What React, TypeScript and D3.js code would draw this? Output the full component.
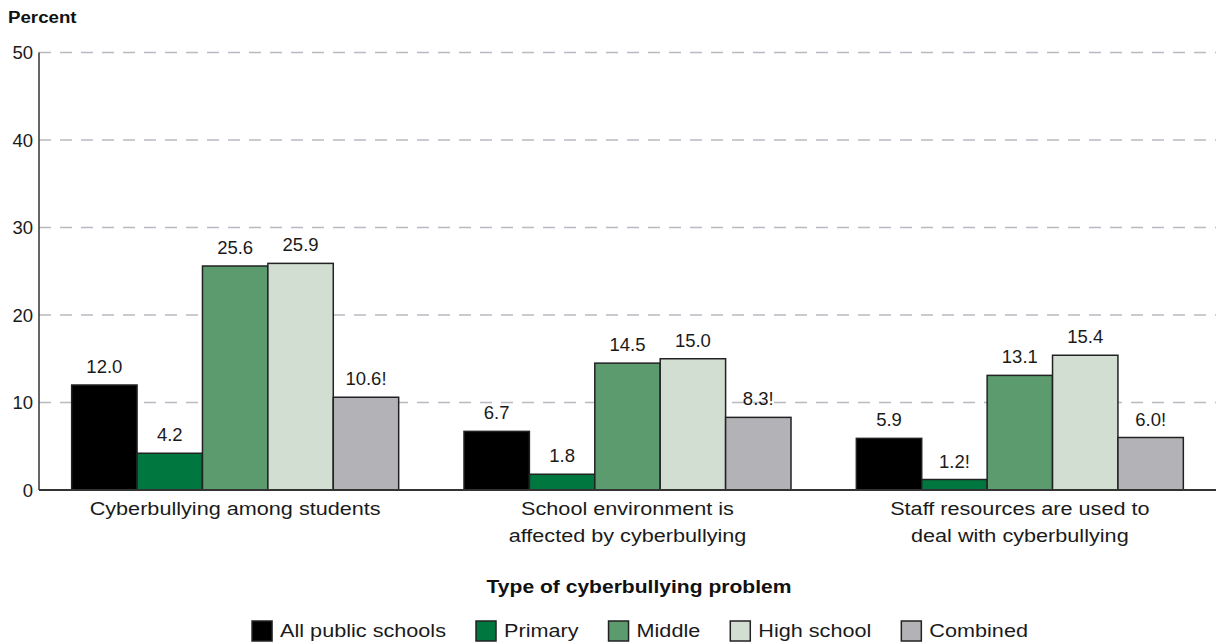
import React, { useEffect, useRef } from "react";
import * as d3 from "d3";

const categories = [
  ["Cyberbullying among students"],
  ["School environment is", "affected by cyberbullying"],
  ["Staff resources are used to", "deal with cyberbullying"],
];
const seriesNames = ["All public schools", "Primary", "Middle", "High school", "Combined"];
const seriesColors = ["#000000", "#00773f", "#5b9b6d", "#d2ded2", "#b3b3b7"];
const allPublic = [12.0, 6.7, 5.9];
const primary = [4.2, 1.8, 1.2];
const middle = [25.6, 14.5, 13.1];
const highSchool = [25.9, 15.0, 15.4];
const combined = [10.6, 8.3, 6.0];
const labels = [
  ["12.0", "4.2", "25.6", "25.9", "10.6!"],
  ["6.7", "1.8", "14.5", "15.0", "8.3!"],
  ["5.9", "1.2!", "13.1", "15.4", "6.0!"],
];
const yTicks = [0, 10, 20, 30, 40, 50];

const W = 1216;
const H = 644;
const FONT = "'Liberation Sans', Arial, Helvetica, sans-serif";
const SX = 1.17;

export default function App() {
  const ref = useRef<SVGSVGElement | null>(null);

  useEffect(() => {
    const svg = d3.select(ref.current);
    svg.selectAll("*").remove();
    const series = [allPublic, primary, middle, highSchool, combined];
    const left = 39, right = 1216, top = 52.5, bottom = 490;

    const x0 = d3.scaleBand<number>().domain([0, 1, 2]).range([left, right]).paddingInner(0.1665).paddingOuter(0.08325);
    const x1 = d3.scaleBand<number>().domain([0, 1, 2, 3, 4]).range([0, x0.bandwidth()]);
    const y = d3.scaleLinear().domain([0, 50]).range([bottom, top]);

    const g = svg.append("g").attr("font-family", FONT);

    // grid
    g.selectAll("line.grid").data(yTicks.filter((t) => t > 0)).enter().append("line")
      .attr("x1", left).attr("x2", right).attr("y1", (d) => y(d)).attr("y2", (d) => y(d))
      .attr("stroke", "#b9b9c1").attr("stroke-width", 1.5).attr("stroke-dasharray", "12,9");

    // y tick labels
    g.selectAll("text.ytick").data(yTicks).enter().append("text")
      .attr("x", 33).attr("y", (d) => y(d) + 6.5).attr("text-anchor", "end")
      .attr("font-size", 18.5).attr("fill", "#1a1a1a").text((d) => d);

    // bars
    categories.forEach((_, ci) => {
      const grp = g.append("g").attr("transform", `translate(${x0(ci)},0)`);
      series.forEach((s, si) => {
        grp.append("rect")
          .attr("x", x1(si)!).attr("y", y(s[ci]))
          .attr("width", x1.bandwidth()).attr("height", bottom - y(s[ci]))
          .attr("fill", seriesColors[si]).attr("stroke", "#222").attr("stroke-width", 1.5);
        grp.append("text")
          .attr("x", x1(si)! + x1.bandwidth() / 2).attr("y", y(s[ci]) - 12)
          .attr("text-anchor", "middle").attr("font-size", 18.5).attr("fill", "#1a1a1a")
          .text(labels[ci][si]);
      });
      categories[ci].forEach((line, li) => {
        const cx = x0(ci)! + x0.bandwidth() / 2;
        g.append("text")
          .attr("transform", `translate(${cx},${515 + li * 26.5}) scale(${SX},1)`)
          .attr("text-anchor", "middle").attr("font-size", 18.5).attr("fill", "#1a1a1a").text(line);
      });
    });

    // axes
    g.append("line").attr("x1", left).attr("x2", left).attr("y1", top).attr("y2", bottom)
      .attr("stroke", "#333").attr("stroke-width", 1.5);
    g.append("line").attr("x1", left).attr("x2", right).attr("y1", bottom).attr("y2", bottom)
      .attr("stroke", "#333").attr("stroke-width", 2);

    // y title
    g.append("text").attr("transform", `translate(8,23) scale(1.1,1)`)
      .attr("font-size", 17).attr("font-weight", "bold").attr("fill", "#111").text("Percent");

    // x title
    g.append("text").attr("transform", `translate(639,593) scale(${SX},1)`)
      .attr("text-anchor", "middle").attr("font-size", 18).attr("font-weight", "bold")
      .attr("fill", "#111").text("Type of cyberbullying problem");

    // legend (measured, then centred)
    const leg = g.append("g");
    let lx = 0;
    seriesNames.forEach((name, i) => {
      leg.append("rect").attr("x", lx).attr("y", 621).attr("width", 20).attr("height", 20)
        .attr("fill", seriesColors[i]).attr("stroke", "#222").attr("stroke-width", 1.5);
      const t = leg.append("text").attr("transform", `translate(${lx + 28},637) scale(${SX},1)`)
        .attr("font-size", 18.5).attr("fill", "#1a1a1a").text(name);
      const w = (t.node() as SVGTextElement).getComputedTextLength() * SX;
      lx += 28 + w + (i < seriesNames.length - 1 ? 30 : 0);
    });
    leg.attr("transform", `translate(${640 - lx / 2},0)`);
  }, []);

  return (
    <svg ref={ref} width={W} height={H} style={{ position: "absolute", left: 0, top: 0, background: "#fff" }} />
  );
}
